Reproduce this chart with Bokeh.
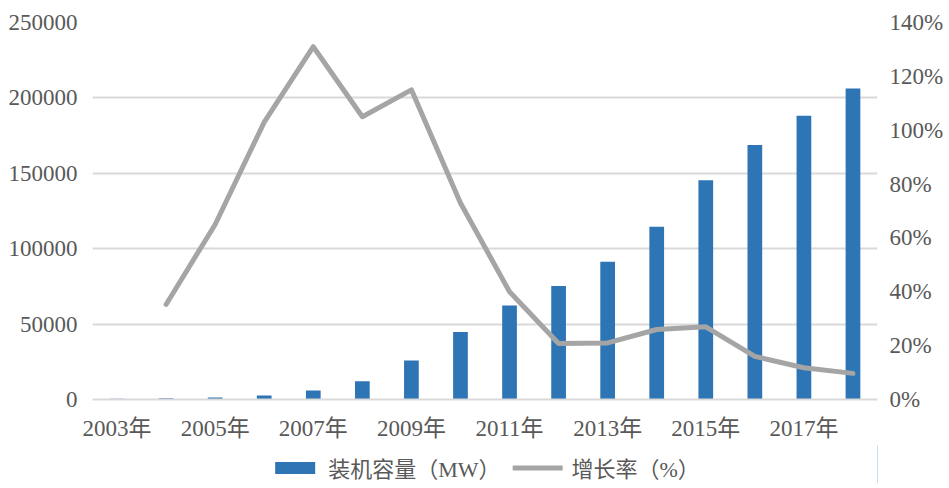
from bokeh.plotting import figure
from bokeh.layouts import column
from bokeh.models import (Range1d, LinearAxis, FixedTicker, PrintfTickFormatter,
                          NumeralTickFormatter, Legend, LegendItem)
from bokeh.embed import file_html
from bokeh.resources import INLINE

years = [2003, 2004, 2005, 2006, 2007, 2008, 2009, 2010, 2011, 2012,
         2013, 2014, 2015, 2016, 2017, 2018]
capacity_mw = [567, 764, 1260, 2599, 5910, 12020, 25805, 44733, 62364, 75324,
               91412, 114609, 145362, 168732, 188232, 206200]
growth_years = [2004, 2005, 2006, 2007, 2008, 2009, 2010, 2011, 2012,
                2013, 2014, 2015, 2016, 2017, 2018]
growth_pct = [35.3, 65, 103, 131, 105, 115, 73, 40, 20.8, 21, 26, 27, 16, 11.8, 9.7]
x_tick_years = [2003, 2005, 2007, 2009, 2011, 2013, 2015, 2017]
x_tick_labels = ["2003年", "2005年", "2007年", "2009年", "2011年", "2013年", "2015年", "2017年"]
left_ticks = [0, 50000, 100000, 150000, 200000, 250000]
right_ticks = [0, 20, 40, 60, 80, 100, 120, 140]
series_names = ["装机容量（MW）", "增长率（%）"]

FONT = "Liberation Serif, Noto Sans CJK SC"
TXT = "#595959"
BLUE = "#2E75B6"
GREY = "#A5A5A5"
GRID = "#D9D9D9"

p = figure(width=946, height=445, output_backend="svg",
           toolbar_location=None, x_range=Range1d(2002.5, 2018.5),
           y_range=Range1d(0, 250000), min_border_left=92, min_border_right=67,
           min_border_top=22, min_border_bottom=46)
p.outline_line_color = None
p.background_fill_color = "white"
p.border_fill_color = "white"

p.extra_y_ranges = {"pct": Range1d(0, 140)}

bars = p.vbar(x=years, top=capacity_mw, width=0.3, fill_color=BLUE, line_color=None)
line = p.line(x=growth_years, y=growth_pct, y_range_name="pct", line_color=GREY,
              line_width=5, line_join="round", line_cap="round")

def style_axis(ax, standoff):
    ax.axis_line_color = None
    ax.major_tick_line_color = None
    ax.minor_tick_line_color = None
    ax.major_tick_out = 0
    ax.major_tick_in = 0
    ax.minor_tick_out = 0
    ax.minor_tick_in = 0
    ax.major_label_text_font = FONT
    ax.major_label_text_font_size = "23px"
    ax.major_label_text_color = TXT
    ax.major_label_standoff = standoff

# left axis
ya = p.yaxis[0]
ya.ticker = FixedTicker(ticks=left_ticks)
ya.formatter = NumeralTickFormatter(format="0")
style_axis(ya, 15)

# right axis
ra = LinearAxis(y_range_name="pct", ticker=FixedTicker(ticks=right_ticks),
                formatter=PrintfTickFormatter(format="%d%%"))
style_axis(ra, 12)
p.add_layout(ra, "right")

# x axis
xa = p.xaxis[0]
xa.ticker = FixedTicker(ticks=x_tick_years)
xa.major_label_overrides = {y: l for y, l in zip(x_tick_years, x_tick_labels)}
style_axis(xa, 16)
xa.axis_line_color = GRID
xa.axis_line_width = 2

p.xgrid.grid_line_color = None
p.ygrid.grid_line_color = GRID
p.ygrid.grid_line_width = 2

# legend strip below the chart (its legend renderers sit just outside its visible range)
lf = figure(width=946, height=38, output_backend="svg", toolbar_location=None,
            x_range=Range1d(1990, 1991), y_range=Range1d(0, 1),
            x_axis_type=None, y_axis_type=None,
            min_border_left=0, min_border_right=0, min_border_top=0, min_border_bottom=0)
lf.outline_line_color = None
lf.xgrid.grid_line_color = None
lf.ygrid.grid_line_color = None
lbar = lf.vbar(x=[years[0]], top=[1], width=0.3, fill_color=BLUE, line_color=None)
lline = lf.line(x=growth_years[:2], y=[0.5, 0.5], line_color=GREY,
                line_width=5, line_cap="round")

legend = Legend(items=[LegendItem(label=series_names[0], renderers=[lbar]),
                       LegendItem(label=series_names[1], renderers=[lline])],
                orientation="horizontal", location="bottom_center",
                label_text_font=FONT, label_text_font_size="22px",
                label_text_color=TXT, glyph_width=50, glyph_height=15,
                spacing=12, padding=0, margin=0, border_line_color=None,
                background_fill_alpha=0, label_standoff=9)
lf.add_layout(legend, "center")

layout = column(p, lf, spacing=0)
open("out.html", "w").write(file_html(layout, INLINE))
